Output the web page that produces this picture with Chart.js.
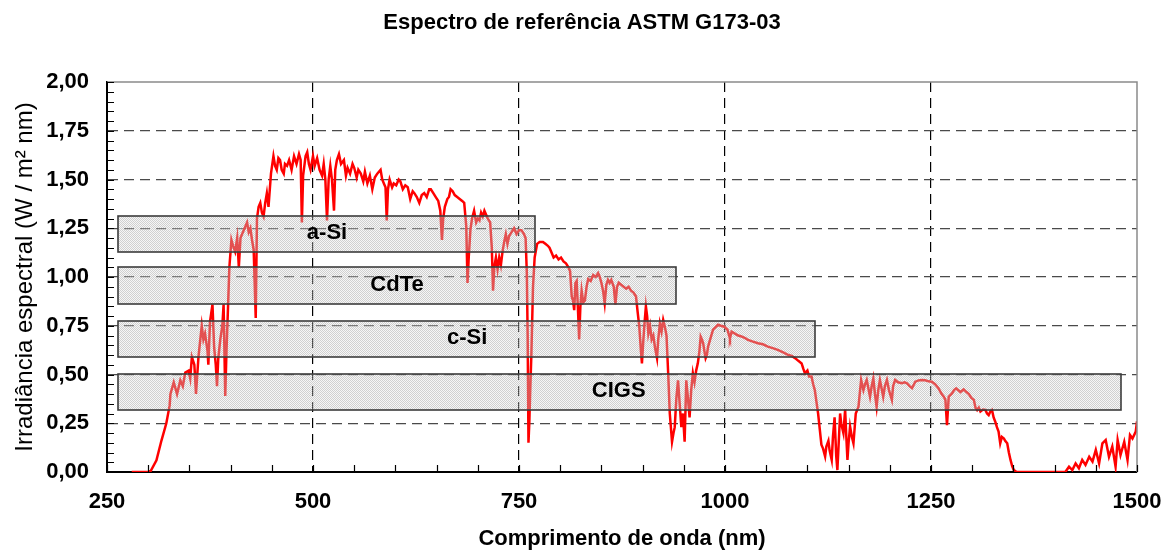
<!DOCTYPE html>
<html><head><meta charset="utf-8">
<script src="https://cdn.jsdelivr.net/npm/chart.js@4.4.1/dist/chart.umd.min.js"></script>
<style>html,body{margin:0;padding:0;background:#fff;overflow:hidden}</style>
</head><body>
<canvas id="c" width="1164" height="550" style="width:1164px;height:550px;display:block"></canvas>
<script>
// ---- data ----
const wavelengths = [280,290,300,303,310,316,322,326,327,331,335,339,342,345,349,351,353,356,358,361,365,367,369,372,373,375,378,380,382,383.5,385,387.5,390,391.5,393.5,395,397,398.5,401,403,405.5,408,410,412,414,417,420,422,424,426,428,430.5,432,434,436,438,440,442,444,446,449,452,454,456,458,460,462,464.5,466,468.5,471,474,477,480,483,485,486.5,488,491,493,495,497,500,502,505,508,511,513,515,517,519,521,523,525.5,527,529,531.5,534,537.5,540,542,545,548,550,553,555,558,561,563,566,569,572,575,578,582,584,586,588,589.5,591,593,596,598,601,604,606,609,612,615,618,621,623,626,629,632,635,638,641,643,646,649,652,654.5,656.5,658,660,663,665,667,669.5,672,675,678,681,683.5,686,687.5,689,691,693,695.5,698,700,702,704,706,708,710,712,715,717,718.5,720,722,724,726,728,730,732,734,736,738,741,744,747,750,753,756,758,759.5,760.5,761.5,762.5,763.5,765,767,769,772,775,779,782,785,787,790,792,795,798,801,804,807,810,812,814,815.5,817,818.5,820,821.5,823,824.5,826,828,830,832,834,837,840,843,846,848,850,852,854,856,858,860,862,865,867,869,871,874,877,880,883,886,889,892,894,896,898,899.2,900.5,902,904,905.5,907,909,911,913,915,917.5,919,921,923,925,927,929,931,933,935.7,937.5,939,941,943,945,947,949,951,953,955,957,959,961,963,965,967,969,970.5,972,973.5,975,976.5,978,979.5,982,985.5,988,991.5,995,999,1003,1005,1006,1008,1012,1016,1020,1025,1028,1033,1040,1046,1052,1058,1064,1070,1077,1081,1085,1089,1093,1095,1097,1100,1102,1105,1107,1109,1111,1113,1115,1117,1119,1121.5,1123,1125.5,1127,1129.5,1131,1133,1135,1136.4,1138,1139.7,1141,1143.7,1145.8,1147,1148.6,1150,1151.8,1154,1155.9,1158.7,1162,1163.5,1165.2,1168,1170,1172,1174,1176,1178,1180,1182,1184,1186,1188,1190,1192,1194,1196.5,1199,1202.5,1204,1206.5,1210,1214.7,1218,1220.8,1224,1227,1231,1235,1239,1243,1247,1251,1255,1259,1263,1265.5,1267.5,1269.4,1271.5,1275.5,1278,1280.5,1283,1285.7,1289.7,1293,1296,1299,1302,1304,1306,1308,1310,1313,1316,1318,1320,1322,1324,1326,1328,1330,1332,1334,1336,1338.5,1340,1342.5,1344.5,1346.5,1348.5,1350.5,1354,1380,1413,1417.5,1421.5,1425.5,1429.5,1433.5,1437.5,1442,1446,1450,1454,1458,1462,1466,1470,1474,1476.5,1480,1484.5,1488.5,1491.5,1494.5,1498.5,1500];
const irradiance = [0,0,0,0.005,0.06,0.16,0.25,0.34,0.40,0.46,0.40,0.47,0.44,0.51,0.52,0.48,0.59,0.55,0.40,0.59,0.75,0.68,0.71,0.62,0.55,0.77,0.86,0.64,0.55,0.44,0.58,0.68,0.75,0.86,0.39,0.62,0.86,1.05,1.19,1.16,1.13,1.20,1.05,1.20,1.22,1.25,1.28,1.23,1.25,1.19,1.14,0.79,1.30,1.36,1.38,1.33,1.31,1.38,1.43,1.36,1.53,1.62,1.57,1.55,1.61,1.60,1.55,1.53,1.58,1.57,1.60,1.55,1.62,1.58,1.63,1.60,1.28,1.52,1.62,1.64,1.58,1.55,1.62,1.57,1.61,1.55,1.52,1.58,1.50,1.29,1.50,1.57,1.50,1.34,1.55,1.60,1.63,1.58,1.60,1.52,1.56,1.53,1.58,1.56,1.51,1.55,1.53,1.49,1.54,1.48,1.52,1.45,1.51,1.53,1.55,1.50,1.48,1.46,1.29,1.45,1.50,1.46,1.48,1.47,1.50,1.49,1.45,1.47,1.46,1.40,1.44,1.43,1.41,1.38,1.42,1.43,1.41,1.45,1.45,1.43,1.41,1.39,1.34,1.19,1.30,1.36,1.40,1.41,1.45,1.44,1.42,1.41,1.40,1.39,1.38,1.26,0.97,1.10,1.24,1.30,1.34,1.28,1.30,1.29,1.33,1.31,1.34,1.32,1.30,1.28,1.15,0.93,1.05,1.10,1.04,1.10,1.06,1.13,1.18,1.22,1.17,1.21,1.23,1.25,1.22,1.24,1.24,1.22,1.20,1.02,0.70,0.15,0.25,0.40,0.60,0.95,1.10,1.17,1.18,1.18,1.17,1.16,1.15,1.12,1.10,1.11,1.09,1.10,1.08,1.07,1.05,1.03,0.90,0.88,0.83,0.97,0.98,0.84,0.68,0.85,0.93,0.87,0.88,0.95,0.99,0.98,1.01,1.00,1.02,1.00,0.97,0.93,0.865,0.96,0.985,0.97,0.985,0.95,0.86,0.95,0.97,0.96,0.95,0.94,0.95,0.93,0.92,0.90,0.82,0.745,0.62,0.557,0.65,0.745,0.85,0.80,0.71,0.75,0.68,0.70,0.64,0.584,0.68,0.76,0.72,0.78,0.745,0.70,0.51,0.30,0.155,0.20,0.23,0.38,0.47,0.35,0.23,0.30,0.155,0.47,0.38,0.28,0.42,0.506,0.46,0.52,0.557,0.62,0.694,0.68,0.66,0.62,0.584,0.60,0.643,0.68,0.73,0.74,0.755,0.75,0.745,0.73,0.70,0.685,0.72,0.71,0.70,0.695,0.685,0.677,0.67,0.66,0.655,0.643,0.635,0.626,0.615,0.60,0.595,0.584,0.57,0.557,0.53,0.506,0.52,0.49,0.49,0.45,0.42,0.36,0.30,0.22,0.14,0.12,0.08,0.13,0.16,0.11,0.062,0.18,0.28,0.08,0.01,0.15,0.30,0.25,0.20,0.32,0.20,0.062,0.15,0.233,0.18,0.147,0.30,0.335,0.40,0.472,0.42,0.45,0.472,0.43,0.386,0.44,0.48,0.40,0.335,0.42,0.472,0.43,0.386,0.44,0.472,0.42,0.37,0.44,0.472,0.46,0.455,0.46,0.455,0.44,0.43,0.463,0.47,0.472,0.47,0.465,0.463,0.45,0.43,0.40,0.386,0.37,0.24,0.386,0.403,0.42,0.429,0.42,0.41,0.424,0.41,0.40,0.38,0.37,0.33,0.318,0.33,0.31,0.32,0.318,0.30,0.292,0.31,0.318,0.28,0.258,0.23,0.207,0.147,0.18,0.172,0.16,0.147,0.10,0.062,0.03,0.01,0,0,0,0.027,0.01,0.044,0.019,0.062,0.036,0.078,0.053,0.113,0.044,0.147,0.164,0.078,0.13,0.027,0.164,0.087,0.155,0.062,0.19,0.172,0.207,0.26];

const cellNames   = ['a-Si', 'CdTe', 'c-Si', 'CIGS'];
const cellStart   = [263, 263, 263, 263];
const cellEnd     = [770, 941, 1109, 1480];
const cellLow     = [1.13, 0.86, 0.59, 0.32];
const cellHigh    = [1.315, 1.05, 0.775, 0.505];
const cellLabelAt = [517, 602, 687, 871];

const xTickLabels = [250, 500, 750, 1000, 1250, 1500];
const yTickLabels = ['0,00','0,25','0,50','0,75','1,00','1,25','1,50','1,75','2,00'];

const titleText = 'Espectro de referência ASTM G173-03';
const xTitle = 'Comprimento de onda (nm)';
const yTitle = 'Irradiância espectral (W / m² nm)';

// ---- chart ----
const FONT = "'Liberation Sans', Arial, Helvetica, sans-serif";
Chart.defaults.font.family = FONT;
Chart.defaults.color = '#000';

const pc = document.createElement('canvas'); pc.width = 2; pc.height = 2;
const p = pc.getContext('2d');
p.fillStyle = 'rgba(170,170,170,0.55)'; p.fillRect(0,0,1,1); p.fillRect(1,1,1,1);
p.fillStyle = 'rgba(225,225,225,0.3)'; p.fillRect(1,0,1,1); p.fillRect(0,1,1,1);

const isMajorY = v => Math.abs(v*4 - Math.round(v*4)) < 1e-6;
const isMajorX = v => Math.abs(v % 250) < 1e-6;

const overlay = {
  id: 'overlay',
  afterDatasetsDraw(chart) {
    const {ctx, chartArea: a, scales: {x, y}} = chart;
    const pat = ctx.createPattern(pc, 'repeat');
    ctx.save();
    for (let i = 0; i < cellNames.length; i++) {
      const x0 = Math.round(x.getPixelForValue(cellStart[i])), x1 = Math.round(x.getPixelForValue(cellEnd[i]));
      const y0 = Math.round(y.getPixelForValue(cellHigh[i])), y1 = Math.round(y.getPixelForValue(cellLow[i]));
      ctx.fillStyle = pat;
      ctx.fillRect(x0, y0, x1 - x0, y1 - y0);
      ctx.strokeStyle = '#3c3c3c'; ctx.lineWidth = 1.6;
      ctx.strokeRect(x0, y0, x1 - x0, y1 - y0);
      ctx.fillStyle = '#000';
      ctx.font = "bold 22px " + FONT;
      ctx.textAlign = 'center'; ctx.textBaseline = 'middle';
      ctx.fillText(cellNames[i], x.getPixelForValue(cellLabelAt[i]), (y0 + y1) / 2 - 1);
    }
    ctx.strokeStyle = '#8a8a8a'; ctx.lineWidth = 1.5;
    ctx.beginPath();
    ctx.moveTo(a.left, a.top); ctx.lineTo(a.right, a.top); ctx.lineTo(a.right, a.bottom);
    ctx.stroke();
    ctx.strokeStyle = '#000'; ctx.lineWidth = 1.2;
    ctx.beginPath();
    x.ticks.forEach(t => {
      const px = Math.round(x.getPixelForValue(t.value)) + 0.5;
      ctx.moveTo(px, a.bottom); ctx.lineTo(px, a.bottom - 7);
    });
    y.ticks.forEach(t => {
      const py = Math.round(y.getPixelForValue(t.value)) + 0.5;
      ctx.moveTo(a.left, py); ctx.lineTo(a.left + 7, py);
    });
    ctx.stroke();
    ctx.restore();
  }
};

new Chart(document.getElementById('c'), {
  type: 'line',
  data: {
    datasets: [{
      data: wavelengths.map((w, i) => ({x: w, y: irradiance[i]})),
      borderColor: '#ff0000',
      borderWidth: 2.5,
      pointRadius: 0,
      tension: 0,
      fill: false
    }]
  },
  options: {
    responsive: false,
    animation: false,
    devicePixelRatio: 1,
    layout: {padding: {left: 0, right: 0, top: 0, bottom: 0}},
    plugins: {
      legend: {display: false},
      tooltip: {enabled: false},
      title: {
        display: true, text: titleText, color: '#000',
        font: {size: 22, weight: 'bold', lineHeight: 1.2},
        padding: {top: 10, bottom: 45.6}
      }
    },
    scales: {
      x: {
        type: 'linear', min: 250, max: 1500,
        afterFit(s) { s.height = 78; s.paddingRight = 27; s.paddingLeft = 20; },
        ticks: {
          stepSize: 50, autoSkip: false, maxRotation: 0, padding: 17,
          font: {size: 22, weight: 'bold'}, color: '#000',
          callback: v => (xTickLabels.includes(v) ? String(v) : '')
        },
        grid: {
          drawTicks: false, lineWidth: 1.2,
          color: c => (c.tick && isMajorX(c.tick.value) && c.tick.value > 250 && c.tick.value < 1500) ? '#000' : 'rgba(0,0,0,0)'
        },
        border: {display: true, color: '#000', width: 2, dash: [10, 6]},
        title: {display: true, text: xTitle, color: '#000', font: {size: 22, weight: 'bold', lineHeight: 1}, padding: {top: 0, bottom: 0}}
      },
      y: {
        min: 0, max: 2,
        afterFit(s) { s.width = 107; },
        ticks: {
          stepSize: 0.05, autoSkip: false, padding: 18,
          font: {size: 22, weight: 'bold'}, color: '#000',
          callback: v => (isMajorY(v) ? yTickLabels[Math.round(v * 4)] : '')
        },
        grid: {
          drawTicks: false, lineWidth: 1.2,
          color: c => (c.tick && isMajorY(c.tick.value) && c.tick.value > 0.01 && c.tick.value < 1.99) ? '#4a4a4a' : 'rgba(0,0,0,0)'
        },
        border: {display: true, color: '#000', width: 2, dash: [10, 6]},
        title: {display: true, text: yTitle, color: '#000', font: {size: 24, weight: 'normal', lineHeight: 1}, padding: {top: 13, bottom: 0}}
      }
    }
  },
  plugins: [overlay]
});
</script>
</body></html>
